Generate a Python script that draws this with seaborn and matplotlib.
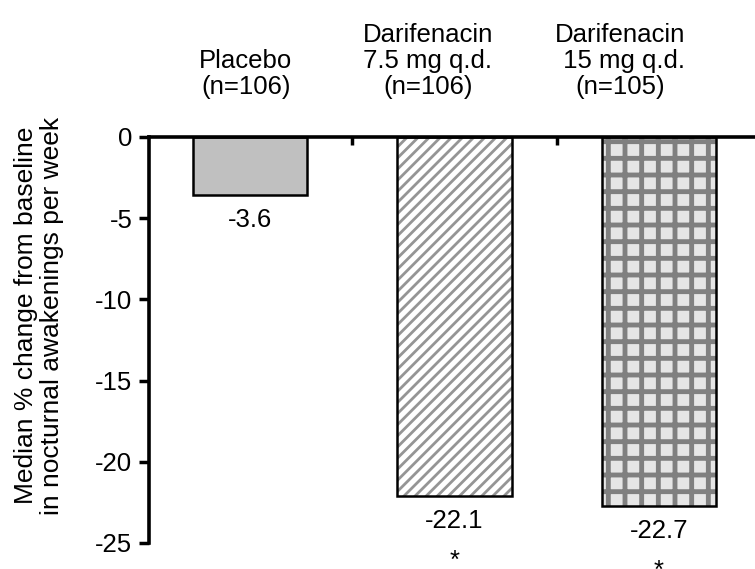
import matplotlib
matplotlib.use("Agg")
import matplotlib.pyplot as plt
import matplotlib.patches as mpatches
import seaborn as sns

# dane
grupy = ['Placebo', 'Darifenacin 7.5 mg', 'Darifenacin 15 mg']
naglowki = ['Placebo\n(n=106)', 'Darifenacin\n7.5 mg q.d.\n(n=106)', 'Darifenacin\n 15 mg q.d.\n(n=105)']
mediany = [-3.6, -22.1, -22.7]
etykiety = ['-3.6', '-22.1', '-22.7']
gwiazdki = ['', '*', '*']
yticki = [0, -5, -10, -15, -20, -25]

sns.set_style('white')
plt.rcParams['font.family'] = ['Liberation Sans', 'DejaVu Sans']
for k in ['text.color', 'axes.labelcolor', 'xtick.color', 'ytick.color']:
    plt.rcParams[k] = 'black'
plt.rcParams['hatch.linewidth'] = 2.0

fs = 18.5

fig = plt.figure(figsize=(7.55, 5.69), dpi=100)
ax = fig.add_axes([149 / 755, 26 / 569, 606 / 755, 406 / 569])

sns.barplot(x=grupy, y=mediany, ax=ax, width=0.56, color='#c0c0c0', linewidth=0)

wypelnienia = [('#c0c0c0', None, '#c0c0c0'), ('white', '///', '#959595'), ('#e6e6e6', '+', '#808080')]
for p, (fc, h, hc) in zip(list(ax.patches), wypelnienia):
    p.set_facecolor(fc)
    p.set_edgecolor(hc)
    p.set_linewidth(0)
    if h:
        p.set_hatch(h)
        if h == '+' and hasattr(p, 'set_hatch_linewidth'):
            p.set_hatch_linewidth(3.5)
    # obrys
    ax.add_patch(mpatches.Rectangle(p.get_xy(), p.get_width(), p.get_height(),
                                    fill=False, edgecolor='black', linewidth=1.8, zorder=3))

ax.set_xlim(-0.494, 2.469)
ax.set_ylim(-25, 0)
ax.set_yticks(yticki)
ax.set_yticklabels([str(t) for t in yticki], fontsize=fs)
ax.xaxis.tick_top()
ax.set_xticks([0.5, 1.5])
ax.tick_params(axis='x', direction='in', length=6, width=2.5, labeltop=False, labelbottom=False)
ax.tick_params(axis='y', direction='out', length=7, width=2.5, left=True, pad=5)

for s in ['bottom', 'right']:
    ax.spines[s].set_visible(False)
for s in ['left', 'top']:
    ax.spines[s].set_linewidth(2.6)
    ax.spines[s].set_color('black')
ax.spines['top'].set_zorder(5)

ax.set_ylabel('Median % change from baseline\nin nocturnal awakenings per week',
              fontsize=19, linespacing=1.1)
ax.yaxis.set_label_coords(-0.14, 0.56)
ax.set_xlabel('')

# etykiety wartosci pod slupkami
for i, (v, t, g) in enumerate(zip(mediany, etykiety, gwiazdki)):
    ax.annotate(t, (i, v), xytext=(0, -25), textcoords='offset pixels',
                ha='center', va='center', fontsize=fs, annotation_clip=False)
    if g:
        ax.annotate(g, (i, v), xytext=(0, -53), textcoords='offset pixels',
                    ha='center', va='top', fontsize=fs, annotation_clip=False)

# naglowki grup nad wykresem
przesuniecia = [-0.02, -0.13, -0.19]
trans = matplotlib.transforms.blended_transform_factory(ax.transData, fig.transFigure)
for i, (n, d) in enumerate(zip(naglowki, przesuniecia)):
    ax.text(i + d, 1 - 99 / 569, n, transform=trans, ha='center', va='bottom',
            fontsize=fs, linespacing=1.1, multialignment='center')

fig.savefig('out.png', dpi=100)
